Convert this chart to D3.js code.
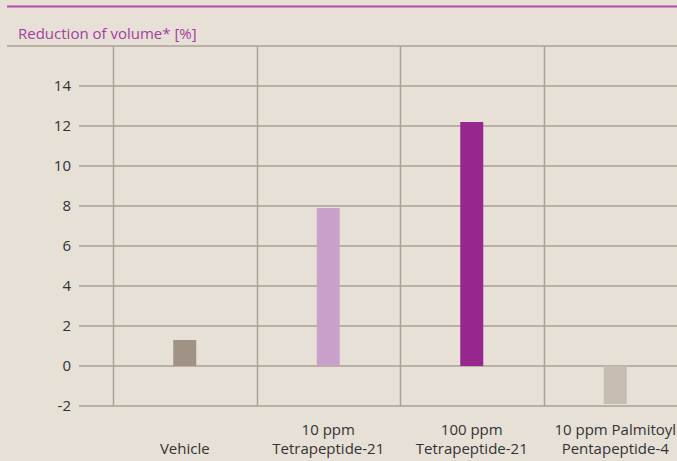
<!DOCTYPE html>
<html>
<head>
<meta charset="utf-8">
<script src="https://cdn.jsdelivr.net/npm/d3@7"></script>
<style>
  body { margin: 0; background: #e6e0d7; }
  svg { display: block; font-family: "Open Sans", "Noto Sans", sans-serif; }
</style>
</head>
<body>
<div id="chart"></div>
<script>
var width = 677;
var height = 461;

// data
var categories = ['Vehicle', '10 ppm Tetrapeptide-21', '100 ppm Tetrapeptide-21', '10 ppm Palmitoyl Pentapeptide-4'];
var labelLines = [['', 'Vehicle'], ['10 ppm', 'Tetrapeptide-21'], ['100 ppm', 'Tetrapeptide-21'], ['10 ppm Palmitoyl', 'Pentapeptide-4']];
var values = [1.3, 7.9, 12.2, -1.9];
var barColors = ['#a09285', '#c9a0ca', '#97268f', '#c6bdb2'];
var yTicks = [-2, 0, 2, 4, 6, 8, 10, 12, 14];

var svg = d3.select('#chart')
    .append('svg')
    .attr('width', width)
    .attr('height', height);

var x = d3.scaleBand()
    .domain(categories)
    .range([113, 687])
    .padding(0);

var y = d3.scaleLinear()
    .domain([-2, 16])
    .range([406, 46]);

var gridColor = '#aba195';

// top purple rule
svg.append('line')
    .attr('x1', 7).attr('x2', width)
    .attr('y1', 6.5).attr('y2', 6.5)
    .attr('stroke', '#b24aa9')
    .attr('stroke-width', 2);

// title
svg.append('text')
    .attr('x', 18)
    .attr('y', 39)
    .attr('fill', '#a53d9e')
    .style('font-size', '15px')
    .text('Reduction of volume* [%]');

// top boundary
svg.append('line')
    .attr('x1', 7).attr('x2', width)
    .attr('y1', y(16)).attr('y2', y(16))
    .attr('stroke', gridColor)
    .attr('stroke-width', 1.5);

// horizontal grid
svg.selectAll('.hgrid')
    .data(yTicks)
    .enter()
    .append('line')
    .attr('class', 'hgrid')
    .attr('x1', 79).attr('x2', width)
    .attr('y1', function(d){ return y(d); })
    .attr('y2', function(d){ return y(d); })
    .attr('stroke', gridColor)
    .attr('stroke-width', 1.5);

// vertical grid
svg.selectAll('.vgrid')
    .data(categories)
    .enter()
    .append('line')
    .attr('class', 'vgrid')
    .attr('x1', function(d){ return Math.round(x(d)) + 0.5; })
    .attr('x2', function(d){ return Math.round(x(d)) + 0.5; })
    .attr('y1', y(16)).attr('y2', y(-2))
    .attr('stroke', gridColor)
    .attr('stroke-width', 1.5);

// tick labels
svg.selectAll('.ytick')
    .data(yTicks)
    .enter()
    .append('text')
    .attr('class', 'ytick')
    .attr('x', 71)
    .attr('y', function(d){ return y(d); })
    .attr('dy', '0.36em')
    .attr('text-anchor', 'end')
    .attr('fill', '#333')
    .style('font-size', '15px')
    .text(function(d){ return d; });

// bars
var barW = 23;
svg.selectAll('.bar')
    .data(values)
    .enter()
    .append('rect')
    .attr('class', 'bar')
    .attr('x', function(d, i){ return x(categories[i]) + x.bandwidth() / 2 - barW / 2; })
    .attr('y', function(d){ return y(Math.max(0, d)); })
    .attr('width', barW)
    .attr('height', function(d){ return Math.abs(y(d) - y(0)); })
    .attr('fill', function(d, i){ return barColors[i]; });

// category labels
var lab = svg.selectAll('.xlab')
    .data(labelLines)
    .enter()
    .append('text')
    .attr('class', 'xlab')
    .attr('text-anchor', 'middle')
    .attr('fill', '#333')
    .style('font-size', '15px');

lab.each(function(lines, i){
    var t = d3.select(this);
    var cx = x(categories[i]) + x.bandwidth() / 2;
    lines.forEach(function(s, j){
        t.append('tspan')
            .attr('x', cx)
            .attr('y', 435 + j * 19)
            .text(s);
    });
});
</script>
</body>
</html>
